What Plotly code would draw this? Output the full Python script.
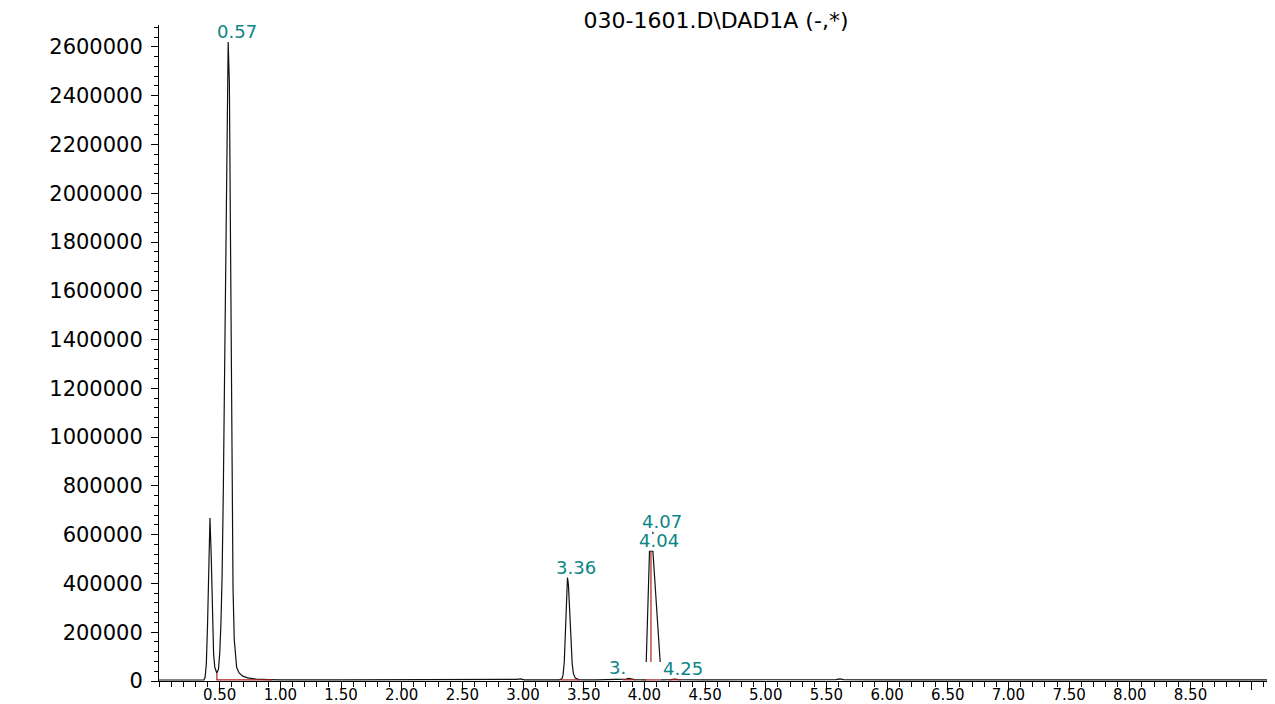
import plotly.graph_objects as go

# ---------------- data ----------------
# retention time (min) and detector signal of the DAD1A trace; None = gap in the drawn trace
signal_time = [
    0.000, 0.300, 0.370, 0.380, 0.390, 0.400, 0.410, 0.420, 0.430, 0.440, 0.450, 0.460, 0.470, 0.477,
    0.490, 0.500, 0.510, 0.520, 0.530, 0.540, 0.550, 0.560, 0.570, 0.580, 0.590, 0.600, 0.610, 0.620,
    0.630, 0.640, 0.660, 0.690, 0.730, 0.800, 0.900, 1.000,
    1.500, 2.000, 2.500, 2.900, 2.950, 2.980, 3.010, 3.100,
    3.300, 3.320, 3.330, 3.340, 3.345, 3.352, 3.360, 3.366, 3.374, 3.384, 3.395, 3.405, 3.415, 3.430,
    3.460, 3.500, 3.600, 3.800, 3.850, 3.870, 3.890, 3.920, 4.000, 4.012,
    None, 4.015, 4.042, 4.070, 4.130, None,
    4.070, 4.070, None,
    4.133, 4.150, 4.220, 4.250, 4.280, 4.500, 5.000, 5.500, 5.580, 5.610, 5.640, 6.000, 6.500,
    7.000, 7.500, 8.000, 8.500, 9.000, 9.180,
]
signal_value = [
    4000, 4000, 5000, 15000, 70000, 230000, 500000, 668000, 520000, 260000, 110000, 55000, 36000, 33000,
    48000, 110000, 230000, 430000, 780000, 1250000, 1800000, 2330000, 2620000, 2450000, 1750000, 900000, 380000, 170000,
    90000, 55000, 33000, 20000, 13000, 8000, 6000, 5000,
    4500, 4500, 4500, 4500, 7000, 9000, 5000, 4500,
    4500, 9000, 25000, 80000, 140000, 260000, 390000, 424000, 395000, 290000, 160000, 70000, 30000, 12000,
    6000, 4500, 5000, 5000, 8000, 11000, 8000, 5500, 5000, 5000,
    None, 78000, 532000, 532000, 78000, None,
    603000, 612000, None,
    5000, 4500, 5500, 8000, 5500, 5000, 5000, 5000, 5500, 9000, 5500, 5000, 5500,
    6000, 5500, 4500, 4500, 4500, 4500,
]

# integration baselines / drop lines (red)
baseline_time = [0.477, 0.477, 0.930, None, 3.310, 3.470, None, 3.820, 3.930, None,
                 4.000, 4.130, None, 4.054, 4.054, None, 4.200, 4.300]
baseline_value = [33000, 4500, 4500, None, 4500, 4500, None, 5000, 5000, None,
                  4500, 4500, None, 529000, 78000, None, 5000, 5000]

# peak labels
peak_label_time = [0.570, 3.366, 4.042, 4.070, 4.245]
peak_label_value = [2620000, 424000, 532000, 612000, 8000]
peak_label_text = ["0.57", "3.36", "4.04", "4.07", "4.25"]
cut_label_time = [3.880]
cut_label_value = [11000]
cut_label_text = ["3."]

# axis ticks
x_tick_vals = [0.5, 1.0, 1.5, 2.0, 2.5, 3.0, 3.5, 4.0, 4.5, 5.0, 5.5, 6.0, 6.5, 7.0, 7.5, 8.0, 8.5, 9.0]
x_tick_text = ["0.50", "1.00", "1.50", "2.00", "2.50", "3.00", "3.50", "4.00", "4.50", "5.00",
               "5.50", "6.00", "6.50", "7.00", "7.50", "8.00", "8.50", ""]
y_tick_vals = [0, 200000, 400000, 600000, 800000, 1000000, 1200000, 1400000, 1600000, 1800000,
               2000000, 2200000, 2400000, 2600000]
y_tick_text = ["0", "200000", "400000", "600000", "800000", "1000000", "1200000", "1400000",
               "1600000", "1800000", "2000000", "2200000", "2400000", "2600000"]

title_text = "030-1601.D\\DAD1A (-,*)"

# ---------------- figure ----------------
FONT = "DejaVu Sans"
TEAL = "#0b8585"
# the page body adds an 8 px offset, so the figure is 8 px smaller than the window
FIG_W, FIG_H = 1267, 696

fig = go.Figure()
fig.add_trace(go.Scatter(x=signal_time, y=signal_value, mode="lines",
                         line=dict(color="#111111", width=1.2), connectgaps=False,
                         hoverinfo="skip", showlegend=False))
fig.add_trace(go.Scatter(x=baseline_time, y=baseline_value, mode="lines",
                         line=dict(color="#a82020", width=1.2), connectgaps=False,
                         hoverinfo="skip", showlegend=False))

annotations = []
for t, v, s in zip(peak_label_time, peak_label_value, peak_label_text):
    annotations.append(dict(x=t, y=v, xref="x", yref="y", text=s, showarrow=False,
                            xanchor="center", yanchor="bottom", xshift=9, yshift=-2,
                            font=dict(family=FONT, size=18, color=TEAL)))
for t, v, s in zip(cut_label_time, cut_label_value, cut_label_text):
    annotations.append(dict(x=t, y=v, xref="x", yref="y", text=s, showarrow=False,
                            xanchor="center", yanchor="bottom", xshift=-12, yshift=-2,
                            font=dict(family=FONT, size=18, color=TEAL)))

fig.update_layout(
    width=FIG_W, height=FIG_H,
    margin=dict(l=151, r=2, t=17, b=23, autoexpand=False),
    paper_bgcolor="white", plot_bgcolor="white",
    title=dict(text=title_text, x=0.5, xref="paper", xanchor="center",
               y=1 - 12 / FIG_H, yref="container", yanchor="middle", automargin=False,
               font=dict(family=FONT, size=22, color="black")),
    annotations=annotations,
    showlegend=False,
)
fig.update_xaxes(range=[0, 9.18], showgrid=False, zeroline=False, automargin=False,
                 showline=True, linecolor="black", linewidth=1,
                 ticks="outside", ticklen=8, tickwidth=1, tickcolor="black",
                 ticklabelstandoff=-8,
                 tickvals=x_tick_vals, ticktext=x_tick_text,
                 tickfont=dict(family=FONT, size=15, color="black"),
                 minor=dict(dtick=0.1, tick0=0, ticks="outside", ticklen=5,
                            tickwidth=1, tickcolor="black", showgrid=False))
fig.update_yaxes(range=[0, 2690000], showgrid=False, zeroline=False, automargin=False,
                 showline=True, linecolor="black", linewidth=1,
                 ticks="outside", ticklen=7, tickwidth=1, tickcolor="black",
                 ticklabelstandoff=4,
                 tickvals=y_tick_vals, ticktext=y_tick_text,
                 tickfont=dict(family=FONT, size=21, color="black"),
                 minor=dict(dtick=40000, tick0=0, ticks="outside", ticklen=4,
                            tickwidth=1, tickcolor="black", showgrid=False))

fig.write_html("out.html")
